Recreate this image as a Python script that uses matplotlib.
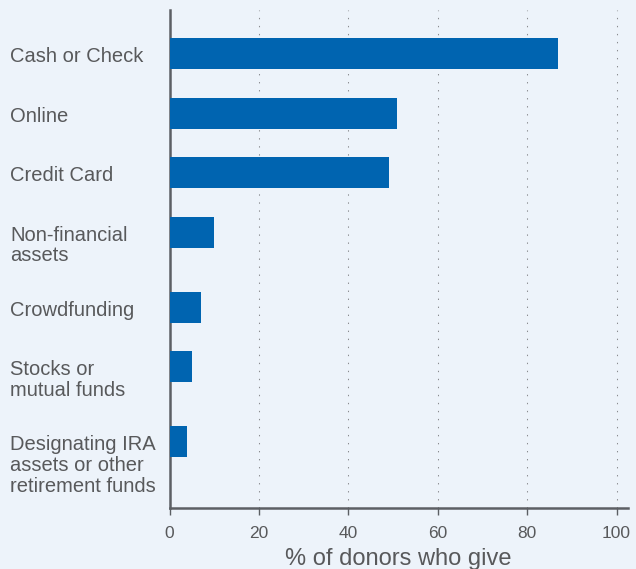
import matplotlib.pyplot as plt

# Data
categories = ["Cash or Check", "Online", "Credit Card", "Non-financial\nassets",
              "Crowdfunding", "Stocks or\nmutual funds",
              "Designating IRA\nassets or other\nretirement funds"]
values = [87, 51, 49, 10, 7, 5, 4]
xticks = [0, 20, 40, 60, 80, 100]

bg = "#edf3fa"
bar_color = "#0064b0"
text_color = "#58595b"
axis_color = "#5c5f64"

plt.rcParams['font.family'] = ['Liberation Sans', 'DejaVu Sans']

fig = plt.figure(figsize=(6.36, 5.69), dpi=100, facecolor=bg)
ax = fig.add_axes([169.5 / 636, (569 - 507.7) / 569, 458.2 / 636, 497.7 / 569])
ax.set_facecolor(bg)

# rows get taller when the label wraps onto more lines
ypos = []
y = 43.5
for cat in categories:
    ypos.append(y)
    y += 59.5 + 15.5 * cat.count("\n")

bar_h = 31
ax.barh(ypos, values, height=bar_h, color=bar_color, zorder=3)

ax.set_ylim(497.7, 0)
ax.set_xlim(0, 102.5)

# labels at the left edge of the figure, top-aligned with their bars
for cat, yp in zip(categories, ypos):
    ax.annotate(cat, xy=(10, yp - bar_h / 2), xycoords=('figure pixels', 'data'),
                xytext=(0, -6.5), textcoords='offset points',
                ha='left', va='top', fontsize=14.5, color=text_color,
                linespacing=1.12, annotation_clip=False)

ax.set_yticks([])
ax.set_xticks(xticks)
ax.tick_params(axis='x', length=5, width=1, color=axis_color, labelsize=12.5,
               labelcolor=text_color, pad=8)
for s in ['top', 'right']:
    ax.spines[s].set_visible(False)
for s in ['left', 'bottom']:
    ax.spines[s].set_color(axis_color)
    ax.spines[s].set_linewidth(1.8)

for xv in xticks[1:]:
    ax.axvline(xv, color="#8a8c90", lw=0.75, linestyle=(0, (1.3, 6.4)), zorder=1)

ax.set_xlabel("% of donors who give", fontsize=17, color=text_color, labelpad=5)

fig.savefig("out.png", dpi=100, facecolor=bg)
